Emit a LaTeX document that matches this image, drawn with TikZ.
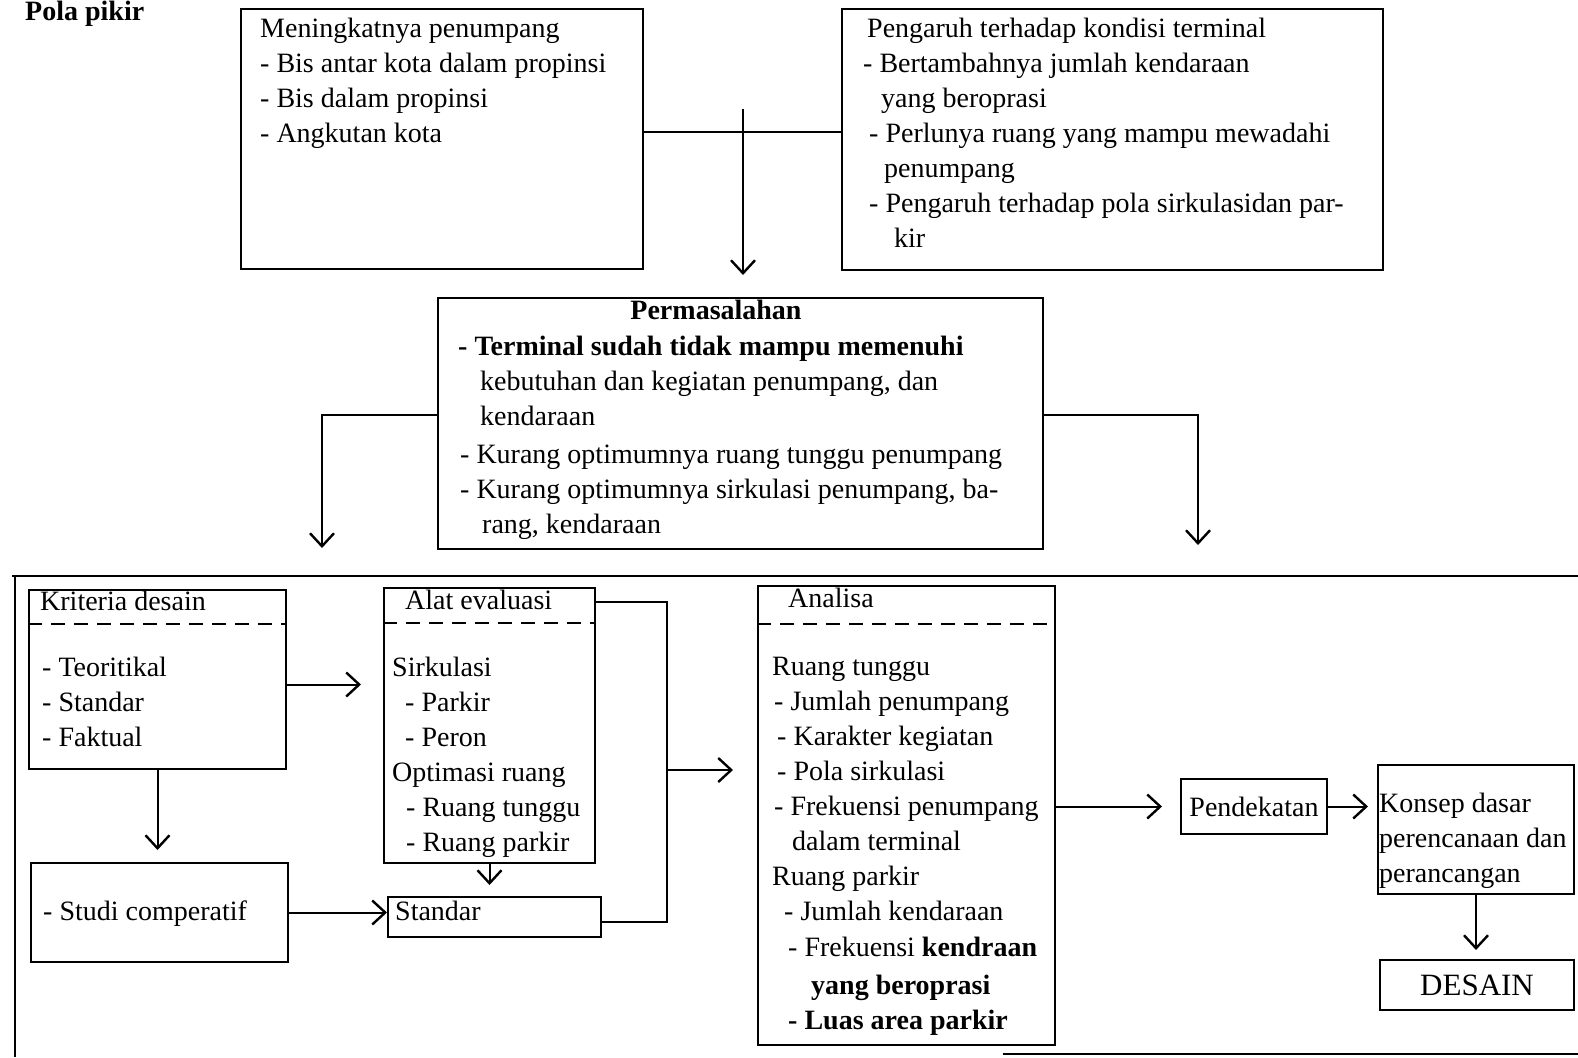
\documentclass[tikz,border=0pt]{standalone}
\usepackage{fontspec}
\setmainfont{Liberation Serif}
\usetikzlibrary{arrows.meta,calc}

\newcommand\bodyfont{\fontsize{28}{35}\selectfont}

\begin{document}
\begin{tikzpicture}[x=1pt,y=-1pt,
  box/.style={draw,line width=2pt,anchor=north west,inner sep=0pt},
  txt/.style={anchor=north west,align=left,inner sep=0pt,font=\bodyfont},
  arr/.style={line width=2pt,-{Straight Barb[length=13pt,width=24pt,line width=2.4pt]}},
  link/.style={line width=2pt},
  sepline/.style={line width=1.6pt,dash pattern=on 14pt off 9pt},
  frame/.style={line width=2.4pt}]
\useasboundingbox (0,0) rectangle (1578,1057);

\node[anchor=base west,inner sep=0pt,font=\bodyfont\bfseries] (judul) at (25,21) {Pola pikir};

% boxes
\node[box,minimum width=402pt,minimum height=260pt] (naik) at (240,8) {};
\node[box,minimum width=541pt,minimum height=261pt] (pengaruh) at (841,8) {};
\node[box,minimum width=605pt,minimum height=251pt] (masalah) at (437,297) {};
\node[box,minimum width=257pt,minimum height=179pt] (kriteria) at (28,589) {};
\node[box,minimum width=257pt,minimum height=99pt] (studi) at (30,862) {};
\node[box,minimum width=211pt,minimum height=275pt] (alat) at (383,587) {};
\node[box,minimum width=213pt,minimum height=40pt] (standar) at (387,896) {};
\node[box,minimum width=297pt,minimum height=459pt] (analisa) at (757,585) {};
\node[box,minimum width=146pt,minimum height=55pt,font=\bodyfont] (dekat) at (1180,778) {Pendekatan};
\node[box,minimum width=196pt,minimum height=129pt] (konsep) at (1377,764) {};
\node[box,minimum width=194pt,minimum height=50pt,font=\fontsize{31}{35}\selectfont] (desain) at (1379,959) {DESAIN};

% outer frame
\draw[frame] (12,576) -- (1578,576);
\draw[frame] (15,576) -- (15,1057);
\draw[frame] (1003,1054) -- (1578,1054);

% dashed separators
\draw[sepline] (kriteria.west |- 0,624) -- (kriteria.east |- 0,624);
\draw[sepline] (alat.west |- 0,623) -- (alat.east |- 0,623);
\draw[sepline] (analisa.west |- 0,624) -- (analisa.east |- 0,624);

% texts
\node[txt] (naik-t) at (260,18) {Meningkatnya penumpang\\- Bis antar kota dalam propinsi\\- Bis dalam propinsi\\- Angkutan kota};
\node[txt] (pengaruh-t) at (863,18) {\hspace*{4pt}Pengaruh terhadap kondisi terminal\\- Bertambahnya jumlah kendaraan\\\hspace*{18pt}yang beroprasi\\\hspace*{6pt}- Perlunya ruang yang mampu mewadahi\\\hspace*{21pt}penumpang\\\hspace*{6pt}- Pengaruh terhadap pola sirkulasidan par-\\\hspace*{31pt}kir};
\node[anchor=north,inner sep=0pt,font=\bodyfont\bfseries] (masalah-j) at (716,300) {Permasalahan};
\node[txt] (masalah-t) at (458,336) {\textbf{- Terminal sudah tidak mampu memenuhi}\\\hspace*{22pt}kebutuhan dan kegiatan penumpang, dan\\\hspace*{22pt}kendaraan\\[3pt]\hspace*{2pt}- Kurang optimumnya ruang tunggu penumpang\\\hspace*{2pt}- Kurang optimumnya sirkulasi penumpang, ba-\\\hspace*{24pt}rang, kendaraan};
\node[txt] (kriteria-j) at (40,591) {Kriteria desain};
\node[txt] (kriteria-t) at (42,657) {- Teoritikal\\- Standar\\- Faktual};
\node[txt] (studi-t) at (43,901) {- Studi comperatif};
\node[txt] (alat-j) at (405,590) {Alat evaluasi};
\node[txt] (alat-t) at (392,657) {Sirkulasi\\\hspace*{13pt}- Parkir\\\hspace*{13pt}- Peron\\Optimasi ruang\\\hspace*{14pt}- Ruang tunggu\\\hspace*{14pt}- Ruang parkir};
\node[txt] (standar-t) at (395,901) {Standar};
\node[txt] (analisa-j) at (788,588) {Analisa};
\node[txt] (analisa-t) at (772,657) {Ruang tunggu\\\hspace*{2pt}- Jumlah penumpang\\\hspace*{5pt}- Karakter kegiatan\\\hspace*{5pt}- Pola sirkulasi\\\hspace*{2pt}- Frekuensi penumpang\\\hspace*{20pt}dalam terminal\\Ruang parkir\\\hspace*{12pt}- Jumlah kendaraan\\[1pt]\hspace*{16pt}- Frekuensi \textbf{kendraan}\\[3pt]\hspace*{39pt}\textbf{yang beroprasi}\\\hspace*{16pt}\textbf{- Luas area parkir}};
\begin{scope}
\clip (konsep.north west) rectangle (konsep.south east);
\node[txt] (konsep-t) at (1379,793) {Konsep dasar\\perencanaan dan\\perancangan};
\end{scope}

% connectors
\coordinate (pisah) at (743,109);
\coordinate (kiri) at (322,548);
\coordinate (kanan) at (1198,545);
\coordinate (gabung) at (667,770);
\draw[link] ($(naik.east)+(0,-7)$) -- ($(naik.east -| pengaruh.west)+(0,-7)$);
\draw[arr] (pisah) -- ($(pisah |- masalah.north)+(0,-22)$);
\draw[arr] ($(masalah.west)+(0,-9)$) -| (kiri);
\draw[arr] ($(masalah.east)+(0,-9)$) -| (kanan);
\draw[arr] ($(kriteria.east)+(0,5)$) -- ($(kriteria.east -| alat.west)+(-22,5)$);
\draw[arr] (kriteria.south) -- ($(kriteria.south |- studi.north)+(0,-12)$);
\draw[arr] (studi.east) -- (studi.east -| standar.west);
\draw[arr] (alat.south) -- ($(alat.south |- standar.north)+(0,-11)$);
\draw[link] ($(alat.north east)+(0,15)$) -| (gabung) |- ($(standar.east)+(0,5)$);
\draw[arr] (gabung) -- ($(gabung -| analisa.west)+(-24,0)$);
\draw[arr] (analisa.east |- dekat.west) -- ($(dekat.west)+(-18,0)$);
\draw[arr] (dekat.east) -- ($(dekat.east -| konsep.west)+(-9,0)$);
\draw[arr] (konsep.south) -- ($(konsep.south |- desain.north)+(0,-9)$);
\end{tikzpicture}
\end{document}
